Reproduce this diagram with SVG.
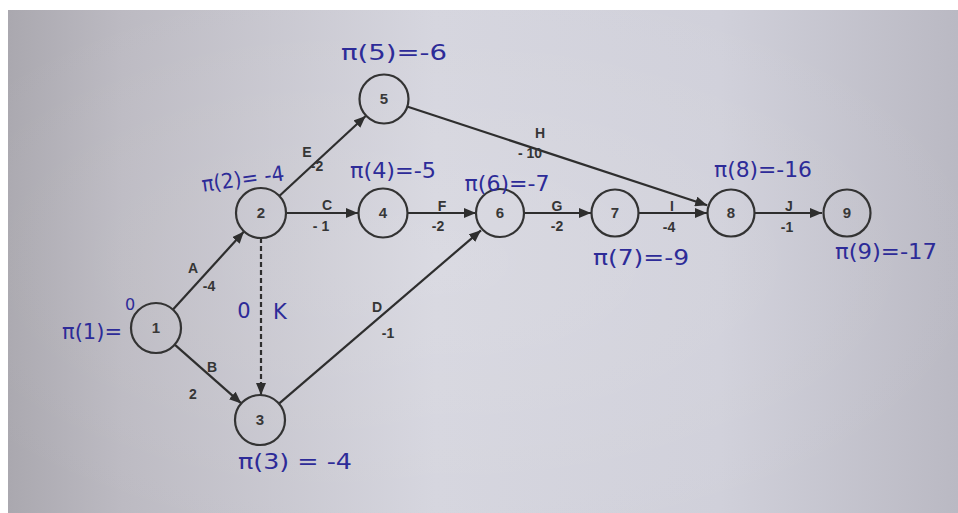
<svg xmlns="http://www.w3.org/2000/svg" width="958" height="513" viewBox="0 0 958 513">
<style>
.node circle{fill:none;stroke:#333;stroke-width:2.2}
.node text{font-family:"Liberation Sans",Arial,sans-serif;font-weight:bold;font-size:15px;fill:#383838;text-anchor:middle}
.edge{stroke:#2e2e2e;stroke-width:2.2;fill:none}
.dash{stroke-dasharray:5 3}
.lbl{font-family:"Liberation Sans",Arial,sans-serif;font-weight:bold;font-size:14px;fill:#353535;text-anchor:middle}
.hw{font-family:"DejaVu Sans","Liberation Sans",sans-serif;font-size:21px;fill:#2d2b98;text-anchor:middle}
</style>
<defs>
<linearGradient id="paper" x1="0" y1="0" x2="1" y2="0">
<stop offset="0" stop-color="#aaa8af"/>
<stop offset="0.12" stop-color="#bcbac2"/>
<stop offset="0.45" stop-color="#d5d5de"/>
<stop offset="0.75" stop-color="#d0d0da"/>
<stop offset="1" stop-color="#bab9c3"/>
</linearGradient>
<radialGradient id="glow" cx="0.45" cy="0.5" r="0.6">
<stop offset="0" stop-color="#ffffff" stop-opacity="0.12"/>
<stop offset="1" stop-color="#ffffff" stop-opacity="0"/>
</radialGradient>
<marker id="arr" viewBox="0 0 12 10" refX="12" refY="5" markerWidth="12" markerHeight="10" markerUnits="userSpaceOnUse" orient="auto">
<path d="M0,0 L12,5 L0,10 z" fill="#2e2e2e"/>
</marker>
</defs>
<rect x="0" y="0" width="958" height="513" fill="#ffffff"/>
<rect x="8" y="10" width="950" height="503" fill="url(#paper)"/>
<rect x="8" y="10" width="950" height="503" fill="url(#glow)"/>

<g id="connectors">
<line class="edge" x1="173" y1="309.5" x2="244" y2="231.5" marker-end="url(#arr)"/>
<line class="edge" x1="174.7" y1="344.6" x2="241.3" y2="403.4" marker-end="url(#arr)"/>
<line class="edge dash" x1="261" y1="238" x2="261" y2="395" marker-end="url(#arr)"/>
<line class="edge" x1="286" y1="213" x2="358" y2="213" marker-end="url(#arr)"/>
<line class="edge" x1="279.3" y1="196" x2="365.7" y2="116" marker-end="url(#arr)"/>
<line class="edge" x1="279" y1="403.7" x2="481" y2="230.3" marker-end="url(#arr)"/>
<line class="edge" x1="408" y1="213" x2="476" y2="213" marker-end="url(#arr)"/>
<line class="edge" x1="407.8" y1="106.8" x2="707.2" y2="205.2" marker-end="url(#arr)"/>
<line class="edge" x1="524" y1="213" x2="591" y2="213" marker-end="url(#arr)"/>
<line class="edge" x1="639" y1="213" x2="707" y2="213" marker-end="url(#arr)"/>
<line class="edge" x1="755" y1="213" x2="822" y2="213" marker-end="url(#arr)"/>
</g>

<g id="edge-labels">
<text class="lbl" x="193" y="273">A</text>
<text class="lbl" x="209" y="291">-4</text>
<text class="lbl" x="212" y="372">B</text>
<text class="lbl" x="193" y="399">2</text>
<text class="lbl" x="327" y="210">C</text>
<text class="lbl" x="321" y="231">- 1</text>
<text class="lbl" x="307" y="157">E</text>
<text class="lbl" x="317" y="171">-2</text>
<text class="lbl" x="377" y="312">D</text>
<text class="lbl" x="388" y="338">-1</text>
<text class="lbl" x="442" y="211">F</text>
<text class="lbl" x="438" y="231">-2</text>
<text class="lbl" x="557" y="211">G</text>
<text class="lbl" x="557" y="231">-2</text>
<text class="lbl" x="540" y="138">H</text>
<text class="lbl" x="530" y="158">- 10</text>
<text class="lbl" x="672" y="211">I</text>
<text class="lbl" x="669" y="232">-4</text>
<text class="lbl" x="789" y="211">J</text>
<text class="lbl" x="787" y="232">-1</text>
</g>

<g id="node1" class="node"><circle cx="156" cy="328" r="25"/><text x="156" y="333">1</text></g>
<g id="node2" class="node"><circle cx="261" cy="213" r="25"/><text x="261" y="218">2</text></g>
<g id="node3" class="node"><circle cx="260" cy="420" r="25"/><text x="260" y="425">3</text></g>
<g id="node4" class="node"><circle cx="383" cy="213" r="24.5"/><text x="383" y="218">4</text></g>
<g id="node5" class="node"><circle cx="384" cy="99" r="24.5"/><text x="384" y="104">5</text></g>
<g id="node6" class="node"><circle cx="500" cy="213" r="24"/><text x="500" y="218">6</text></g>
<g id="node7" class="node"><circle cx="615" cy="213" r="23.5"/><text x="615" y="218">7</text></g>
<g id="node8" class="node"><circle cx="731" cy="213" r="23.5"/><text x="731" y="218">8</text></g>
<g id="node9" class="node"><circle cx="847" cy="213" r="23.5"/><text x="847" y="218">9</text></g>

<g id="annotations">
<text class="hw" x="92" y="339" textLength="60" lengthAdjust="spacingAndGlyphs">π(1)=</text>
<text class="hw" x="130" y="310" style="font-size:16px">0</text>
<text class="hw" x="243" y="186" textLength="83" lengthAdjust="spacingAndGlyphs" transform="rotate(-8 243 180)">π(2)= -4</text>
<text class="hw" x="394" y="60" textLength="106" lengthAdjust="spacingAndGlyphs">π(5)=-6</text>
<text class="hw" x="393" y="178" textLength="86" lengthAdjust="spacingAndGlyphs">π(4)=-5</text>
<text class="hw" x="507" y="191" textLength="85" lengthAdjust="spacingAndGlyphs">π(6)=-7</text>
<text class="hw" x="641" y="265" textLength="96" lengthAdjust="spacingAndGlyphs">π(7)=-9</text>
<text class="hw" x="763" y="177" textLength="98" lengthAdjust="spacingAndGlyphs">π(8)=-16</text>
<text class="hw" x="886" y="259" textLength="102" lengthAdjust="spacingAndGlyphs">π(9)=-17</text>
<text class="hw" x="295" y="469" textLength="114" lengthAdjust="spacingAndGlyphs">π(3) = -4</text>
<text class="hw" x="244" y="318">0</text>
<text class="hw" x="280" y="319">K</text>
</g>
</svg>
